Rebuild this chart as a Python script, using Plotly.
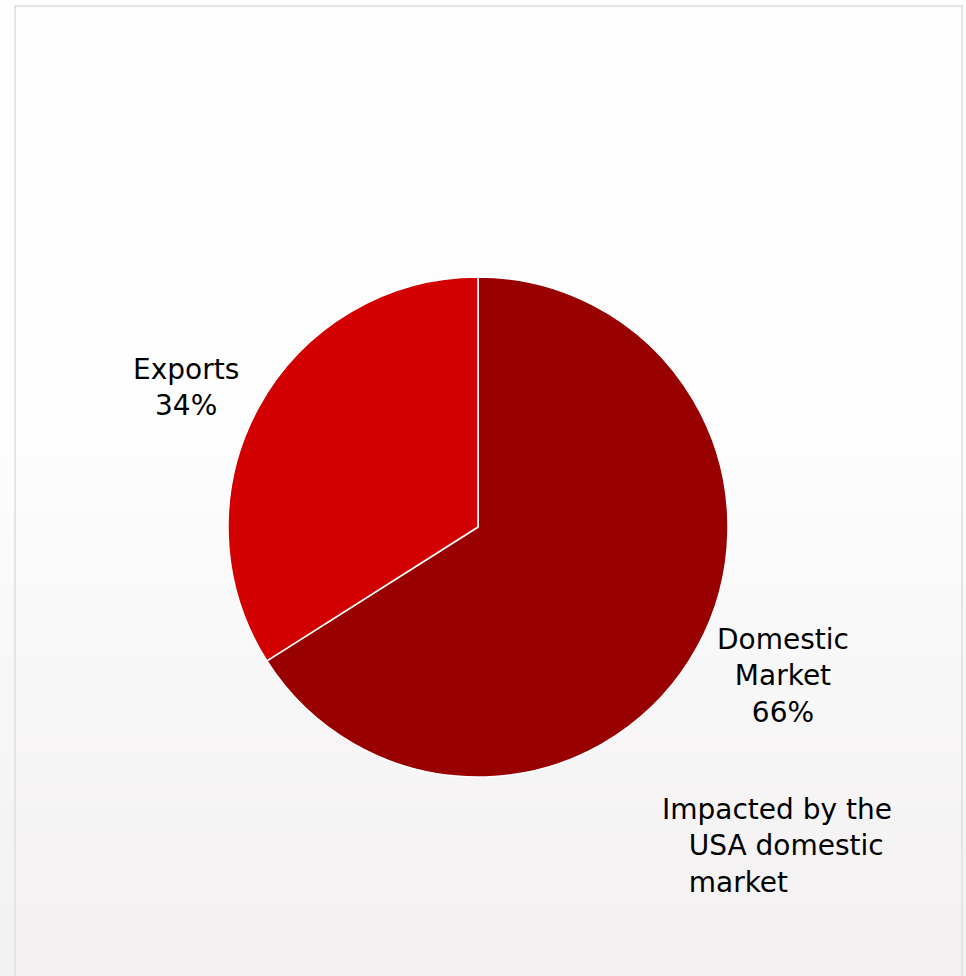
import plotly.graph_objects as go

labels = ["Domestic Market", "Exports"]
label_lines = ["Domestic<br>Market", "Exports"]
values = [66, 34]
colors = ["#990000", "#d20000"]
note = "Impacted by the<br>   USA domestic<br>   market"

W, H = 966, 976
fig = go.Figure()
fig.add_trace(go.Pie(
    labels=labels, values=values, sort=False, direction="clockwise", rotation=0,
    marker=dict(colors=colors, line=dict(color="#ffffff", width=1.5)),
    textinfo="none", hoverinfo="label+percent", showlegend=False,
    domain=dict(x=[(478-252)/W, (478+252)/W], y=[(H-527-250)/H, (H-527+250)/H]),
))

font = dict(family="Verdana, DejaVu Sans, sans-serif", size=28, color="#000000")
total = sum(values)
pos = {"Exports": (186, 387), "Domestic Market": (783, 676)}
for lab, txt, v in zip(labels, label_lines, values):
    x, y = pos[lab]
    fig.add_annotation(x=x/W, y=1-y/H, xref="paper", yref="paper", showarrow=False,
                       text=f"{txt}<br>{round(100*v/total)}%", font=font, align="center",
                       xanchor="center", yanchor="middle")
fig.add_annotation(x=660/W, y=1-846/H, xref="paper", yref="paper", showarrow=False,
                   text=note, font=font, align="left", xanchor="left", yanchor="middle")

# background gradient bands
shapes = []
n = 40
for i in range(n):
    t = i / (n - 1)
    f = max(0.0, (t - 0.45) / 0.55)
    r = int(round(253 - f * 11)); g = int(round(253 - f * 13)); b = int(round(253 - f * 12))
    shapes.append(dict(type="rect", xref="paper", yref="paper", layer="below",
                       x0=0, x1=1, y0=1 - (i + 1) / n, y1=1 - i / n + 0.001,
                       fillcolor=f"rgb({r},{g},{b})", line=dict(width=0)))
shapes.append(dict(type="rect", xref="paper", yref="paper", layer="below",
                   x0=15/W, x1=962/W, y0=-0.01, y1=1-6/H,
                   fillcolor="rgba(0,0,0,0)", line=dict(color="#e4e4e4", width=2)))

fig.update_layout(width=W, height=H, margin=dict(l=0, r=0, t=0, b=0),
                  paper_bgcolor="#fdfdfd", plot_bgcolor="#fdfdfd", shapes=shapes)
fig.write_html("out.html")
